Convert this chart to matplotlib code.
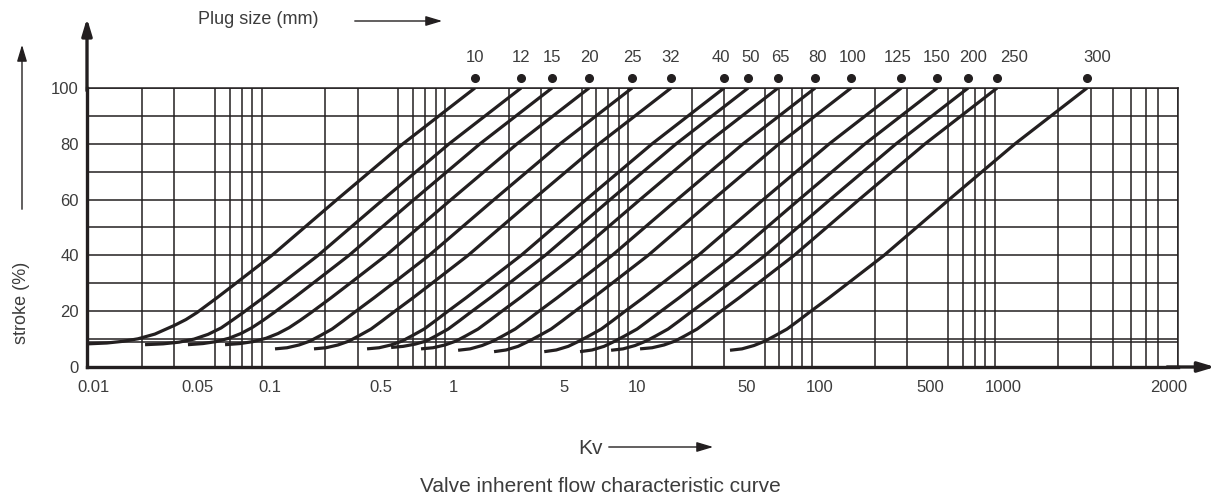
import matplotlib
matplotlib.use("Agg")
import matplotlib.pyplot as plt
from matplotlib.patches import FancyArrowPatch
from matplotlib.ticker import LogLocator, FixedLocator, FixedFormatter, NullFormatter

plt.rcParams['font.family'] = ['Liberation Sans', 'DejaVu Sans']

# plug sizes (mm), one curve each
plug_sizes = ['10', '12', '15', '20', '25', '32', '40', '50', '65', '80',
              '100', '125', '150', '200', '250', '300']

# stroke (%) of the seven tail points of every curve
tail_strokes = [
    [8.3, 8.6, 9.2, 10.1, 11.8, 15.0, 17.0],
    [8.0, 8.3, 8.9, 10.0, 11.7, 14.0, 16.7],
    [8.0, 8.4, 9.1, 10.3, 12.0, 14.1, 16.7],
    [8.0, 8.4, 9.1, 10.3, 12.0, 14.1, 16.7],
    [6.5, 6.9, 7.9, 9.3, 11.2, 13.6, 16.5],
    [6.5, 6.9, 7.9, 9.3, 11.2, 13.6, 16.5],
    [6.5, 6.9, 7.9, 9.3, 11.2, 13.6, 16.5],
    [7.0, 7.4, 8.2, 9.3, 11.2, 13.6, 16.5],
    [6.5, 6.9, 7.9, 9.3, 11.2, 13.6, 16.5],
    [6.0, 6.5, 7.7, 9.3, 11.2, 13.6, 16.5],
    [5.5, 6.1, 7.4, 9.3, 11.2, 13.6, 16.5],
    [5.5, 6.1, 7.4, 9.3, 11.2, 13.6, 16.5],
    [5.5, 6.1, 7.4, 9.3, 11.2, 13.6, 16.5],
    [6.0, 6.5, 7.7, 9.3, 11.2, 13.6, 16.5],
    [6.5, 6.9, 7.9, 9.3, 11.2, 13.6, 16.5],
    [6.0, 6.5, 7.7, 9.3, 11.2, 13.6, 16.5],
]
# stroke (%) of the upper points, same for all curves
stroke_upper = [19.5, 24.8, 30.3, 40, 60, 80, 100]

# Kv (tail points, then upper points)
kv_10 = [0.01011, 0.01284, 0.01570, 0.01896, 0.02347, 0.03019, 0.03466, 0.0398,
         0.05117, 0.0658, 0.1021, 0.2312, 0.530, 1.31]
kv_12 = [0.02074, 0.02600, 0.03180, 0.03840, 0.04578, 0.05393, 0.0619, 0.0711,
         0.0914, 0.1175, 0.1824, 0.4129, 0.9467, 2.34]
kv_15 = [0.03556, 0.04293, 0.05056, 0.05953, 0.06921, 0.07951, 0.0913, 0.1048,
         0.1348, 0.1733, 0.2690, 0.6088, 1.396, 3.45]
kv_20 = [0.05668, 0.06844, 0.0806, 0.0949, 0.1103, 0.1268, 0.1455, 0.1671,
         0.2148, 0.2762, 0.4288, 0.9706, 2.225, 5.50]
kv_25 = [0.1062, 0.1235, 0.1437, 0.1649, 0.1870, 0.2175, 0.2497, 0.2868,
         0.3687, 0.4741, 0.7359, 1.666, 3.819, 9.44]
kv_32 = [0.1733, 0.2015, 0.2343, 0.2691, 0.3051, 0.3549, 0.4074, 0.4679,
         0.6015, 0.7734, 1.2006, 2.718, 6.230, 15.4]
kv_40 = [0.3376, 0.3926, 0.4565, 0.5242, 0.5944, 0.6914, 0.7936, 0.9115,
         1.1717, 1.5066, 2.339, 5.294, 12.14, 30.0]
kv_50 = [0.4569, 0.5313, 0.6178, 0.7094, 0.8044, 0.9356, 1.074, 1.2335,
         1.5858, 2.039, 3.165, 7.165, 16.43, 40.6]
kv_65 = [0.6651, 0.7734, 0.8993, 1.0326, 1.1709, 1.362, 1.5634, 1.7956,
         2.3083, 2.968, 4.607, 10.43, 23.91, 59.1]
kv_80 = [1.060, 1.2327, 1.4334, 1.6459, 1.8663, 2.1708, 2.492, 2.862,
         3.679, 4.731, 7.344, 16.62, 38.11, 94.2]
kv_100 = [1.6656, 1.9367, 2.2521, 2.5859, 2.9322, 3.4107, 3.915, 4.4965,
          5.781, 7.433, 11.54, 26.12, 59.87, 148]
kv_125 = [3.129, 3.638, 4.230, 4.857, 5.508, 6.407, 7.354, 8.446,
          10.86, 13.96, 21.67, 49.06, 112.5, 278]
kv_150 = [4.907, 5.706, 6.635, 7.618, 8.638, 10.05, 11.53, 13.25,
          17.03, 21.90, 33.99, 76.94, 176.4, 436]
kv_200 = [7.248, 8.427, 9.800, 11.25, 12.76, 14.84, 17.04, 19.57,
          25.15, 32.34, 50.21, 113.6, 260.5, 644]
kv_250 = [10.43, 12.13, 14.11, 16.20, 18.37, 21.36, 24.52, 28.16,
          36.21, 46.55, 72.27, 163.6, 375.0, 927]
kv_300 = [32.30, 37.56, 43.67, 50.15, 56.86, 66.14, 75.92, 87.20,
          112.1, 144.1, 223.7, 506.5, 1161, 2870]

curves = [kv_10, kv_12, kv_15, kv_20, kv_25, kv_32, kv_40, kv_50, kv_65, kv_80,
          kv_100, kv_125, kv_150, kv_200, kv_250, kv_300]

# x tick labels as printed, and where they sit on the Kv axis
x_tick_pos = [0.0108, 0.04, 0.1, 0.4, 1, 4, 10, 40, 100, 400, 1000, 8000]
x_tick_labels = ['0.01', '0.05', '0.1', '0.5', '1', '5', '10', '50', '100', '500', '1000', '2000']
y_ticks = [0, 20, 40, 60, 80, 100]
y_grid = [9, 10, 20, 30, 40, 50, 60, 70, 80, 90, 100]

# small horizontal nudges (px) of some plug labels
label_nudge = [0, 0, 0, 0, 0, 0, -3, 2, 2, 2, 2, -4, 0, 5, 17, 10]

ink = '#231f20'
txt = '#3c3c3c'
W, H = 1219, 500

fig = plt.figure(figsize=(W / 100, H / 100), dpi=100)
ax = fig.add_axes([87 / W, 133 / H, (1178 - 87) / W, (367 - 88) / H])
ax.set_xscale('log')
ax.set_xlim(0.01, 9000)
ax.set_ylim(0, 100)

# log paper grid
ax.xaxis.set_minor_locator(LogLocator(base=10, subs=range(1, 10), numticks=50))
ax.xaxis.set_minor_formatter(NullFormatter())
ax.xaxis.set_major_locator(FixedLocator(x_tick_pos))
ax.xaxis.set_major_formatter(FixedFormatter(x_tick_labels))
ax.grid(which='minor', axis='x', color=ink, linewidth=1.1)
ax.grid(which='major', axis='x', visible=False)
for yv in y_grid:
    ax.axhline(yv, color=ink, linewidth=1.1, zorder=1)
ax.set_yticks(y_ticks)

ax.tick_params(axis='both', which='both', length=0, labelsize=12, labelcolor=txt)
ax.tick_params(axis='x', pad=9)
ax.tick_params(axis='y', pad=6)

for side in ['top', 'right']:
    ax.spines[side].set_linewidth(1.1)
    ax.spines[side].set_color(ink)
for side in ['left', 'bottom']:
    ax.spines[side].set_linewidth(2.4)
    ax.spines[side].set_color(ink)
    ax.spines[side].set_zorder(5)

# curves, dots and plug size labels
for i, kv in enumerate(curves):
    strokes = tail_strokes[i] + stroke_upper
    ax.plot(kv, strokes, color=ink, linewidth=2.3, solid_capstyle='butt',
            solid_joinstyle='round', zorder=4)
    ax.plot(kv[-1], 103.6, 'o', color=ink, markersize=5.5, clip_on=False, zorder=4)
    ax.annotate(plug_sizes[i], (kv[-1], 110.8), xytext=(label_nudge[i] * 0.72, 0),
                textcoords='offset points', ha='center', va='center',
                fontsize=12, color=txt, annotation_clip=False)

# axis arrows
arrow = dict(arrowstyle='-|>,head_length=1.0,head_width=0.3', color=ink, lw=2.4,
             shrinkA=0, shrinkB=0)
ax.annotate('', xy=(0, 1.25), xytext=(0, 0.99), xycoords='axes fraction',
            arrowprops=arrow, annotation_clip=False)
ax.annotate('', xy=(1.034, 0), xytext=(0.99, 0), xycoords='axes fraction',
            arrowprops=arrow, annotation_clip=False)


def thin_arrow(x0, y0, x1, y1):
    fig.add_artist(FancyArrowPatch(
        (x0 / W, 1 - y0 / H), (x1 / W, 1 - y1 / H), transform=fig.transFigure,
        arrowstyle='-|>,head_length=10,head_width=3', color=ink, lw=1.0,
        mutation_scale=1))


fig.text(258 / W, 1 - 20 / H, 'Plug size (mm)', ha='center', va='center',
         fontsize=13, color=txt)
thin_arrow(352, 21, 445, 21)

fig.text(22 / W, 1 - 303 / H, 'stroke (%)', ha='center', va='center',
         rotation=90, fontsize=13, color=txt)
thin_arrow(22, 212, 22, 42)

fig.text(590 / W, 1 - 448 / H, 'Kv', ha='center', va='center',
         fontsize=15, color=txt)
thin_arrow(606, 447, 716, 447)

fig.text(600 / W, 1 - 487 / H, 'Valve inherent flow characteristic curve',
         ha='center', va='center', fontsize=15, color=txt)

fig.savefig('out.png', dpi=100)
